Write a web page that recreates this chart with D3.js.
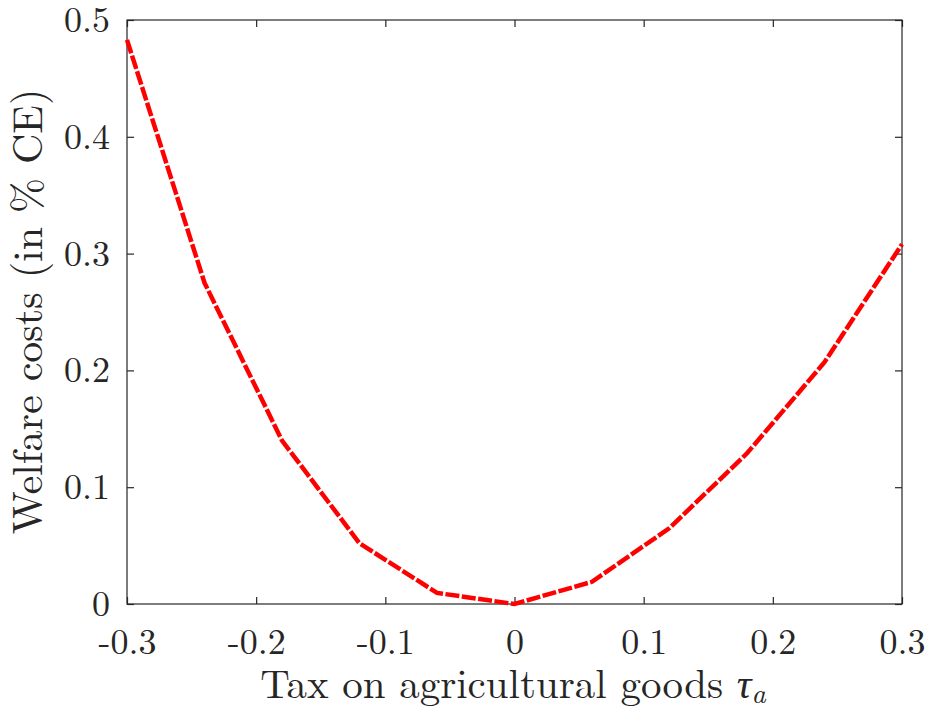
<!DOCTYPE html>
<html><head><meta charset="utf-8">
<script src="https://cdn.jsdelivr.net/npm/d3@7"></script>
<style>body{margin:0;background:#fff}</style>
</head><body>
<svg id="c" width="926" height="709"></svg>
<script>
const taxValues = [-0.3, -0.24, -0.18, -0.12, -0.06, 0, 0.06, 0.12, 0.18, 0.24, 0.3];
const welfareCosts = [0.483, 0.275, 0.140, 0.052, 0.0095, 0, 0.019, 0.065, 0.129, 0.207, 0.308];
const xTicks = [-0.3, -0.2, -0.1, 0, 0.1, 0.2, 0.3];
const yTicks = [0, 0.1, 0.2, 0.3, 0.4, 0.5];

const svg = d3.select('#c');
const L = 127, R = 902, T = 20, B = 604;
const x = d3.scaleLinear().domain([-0.3, 0.3]).range([L, R]);
const y = d3.scaleLinear().domain([0, 0.5]).range([B, T]);
const font = 'Latin Modern Roman';
const axisCol = '#262626';

svg.append('rect').attr('x', L).attr('y', T).attr('width', R - L).attr('height', B - T)
  .attr('fill', 'none').attr('stroke', axisCol).attr('stroke-width', 1.2);

function styleAxis(g){
  g.attr('font-family', font).attr('font-size', 36);
  g.select('.domain').remove();
  g.selectAll('line').attr('stroke', axisCol).attr('stroke-width', 1.2);
  g.selectAll('text').attr('fill', axisCol);
}
const fmt = d => d === 0 ? '0' : d3.format('.1f')(d).replace('−', '-');
svg.append('g').attr('transform', `translate(0,${B})`)
  .call(d3.axisBottom(x).tickValues(xTicks).tickFormat(fmt).tickSizeInner(-7).tickPadding(24))
  .call(styleAxis);
svg.append('g').attr('transform', `translate(0,${T})`)
  .call(d3.axisTop(x).tickValues(xTicks).tickFormat('').tickSizeInner(-7))
  .call(styleAxis);
svg.append('g').attr('transform', `translate(${L},0)`)
  .call(d3.axisLeft(y).tickValues(yTicks).tickFormat(fmt).tickSizeInner(-7).tickPadding(17))
  .call(styleAxis);
svg.append('g').attr('transform', `translate(${R},0)`)
  .call(d3.axisRight(y).tickValues(yTicks).tickFormat('').tickSizeInner(-7))
  .call(styleAxis);

const data = taxValues.map((t, i) => ({t, v: welfareCosts[i]}));
svg.append('path').datum(data)
  .attr('d', d3.line().x(d => x(d.t)).y(d => y(d.v)))
  .attr('fill', 'none').attr('stroke', '#ff0000').attr('stroke-width', 4.5)
  .attr('stroke-dasharray', '14,2.5');

svg.append('text').attr('x', 513).attr('y', 698).attr('text-anchor', 'middle')
  .attr('fill', axisCol).attr('font-family', font).attr('font-size', 41)
  .html('Tax on agricultural goods <tspan font-style="italic">τ</tspan><tspan font-style="italic" font-size="28" dy="5">a</tspan>');
svg.append('text').attr('transform', `translate(42,${(88 + 535) / 2}) rotate(-90)`)
  .attr('text-anchor', 'middle').attr('fill', axisCol)
  .attr('font-family', font).attr('font-size', 42)
  .text('Welfare costs (in % CE)');
</script>
</body></html>
